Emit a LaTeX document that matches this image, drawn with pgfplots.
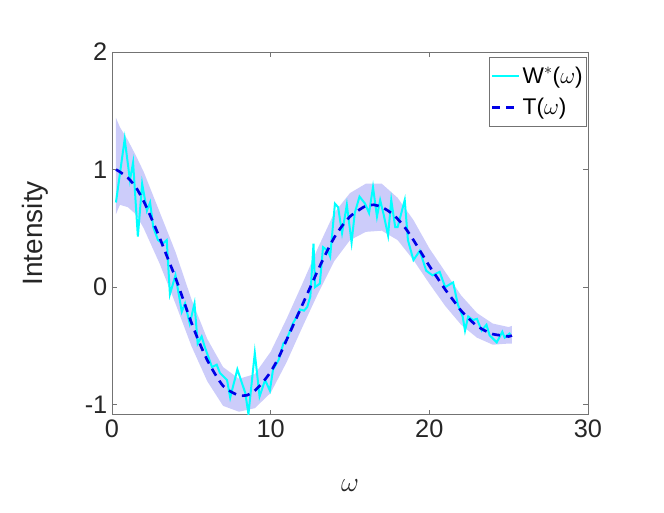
\documentclass[border=0pt]{standalone}
\usepackage{fontspec}
\setmainfont{Liberation Sans}
\usepackage{pgfplots}
\pgfplotsset{compat=1.18}
\usepackage{pgfplotstable}
\usepgfplotslibrary{fillbetween}

\definecolor{axgray}{gray}{0.45}
\definecolor{txtgray}{gray}{0.15}
\definecolor{wcyan}{RGB}{0,255,255}
\definecolor{tblue}{RGB}{0,0,230}
\definecolor{bandfill}{RGB}{204,204,250}

% spread of the estimate
\pgfplotstableread{
x     lo     hi
0.25  0.62   1.44
0.5   0.70   1.36
1     0.68   1.25
1.5   0.62   1.12
2     0.50   0.98
3     0.20   0.64
4    -0.14   0.30
5    -0.50  -0.10
6    -0.80  -0.44
7    -1.01  -0.68
8    -1.06  -0.78
9    -1.03  -0.74
10   -0.90  -0.55
11   -0.64  -0.27
12   -0.34   0.03
13   -0.05   0.34
14    0.22   0.63
15    0.40   0.80
16    0.47   0.88
17    0.48   0.88
18    0.40   0.76
19    0.23   0.57
20    0.03   0.33
21   -0.16   0.13
22   -0.32  -0.07
23   -0.43  -0.22
24   -0.49  -0.31
25   -0.48  -0.34
25.2 -0.48  -0.33
}\band

% W*(omega), noisy
\pgfplotstableread{
x     y
0.25  0.72
0.8   1.26
1.13  0.91
1.33  1.06
1.63  0.43
1.9   0.88
2.2   0.65
2.4   0.72
2.6   0.51
2.9   0.40
3.2   0.37
3.45  0.40
3.65 -0.06
4.0   0.10
4.4  -0.21
4.6  -0.14
4.9  -0.31
5.2  -0.14
5.4  -0.48
5.65 -0.42
5.85 -0.51
6.3  -0.68
6.6  -0.66
6.8  -0.73
7.25 -0.79
7.45 -0.94
7.9  -0.70
8.2  -0.82
8.4  -0.90
8.6  -1.08
9.0  -0.56
9.3  -0.93
9.65 -0.79
9.95 -0.88
10.15 -0.70
10.5 -0.62
10.8 -0.48
11.0 -0.45
11.4 -0.31
11.6 -0.26
11.85 -0.19
12.1 -0.20
12.3 -0.17
12.5 -0.08
12.7  0.37
12.8  0.00
13.1  0.03
13.3  0.34
13.6  0.31
13.75 0.26
14.05 0.71
14.25 0.68
14.5  0.46
14.8  0.70
15.1  0.38
15.3  0.63
15.6  0.77
15.95 0.71
16.2  0.63
16.45 0.85
16.7  0.60
16.9  0.74
17.1  0.63
17.4  0.44
17.6  0.74
17.85 0.51
18.0  0.51
18.45 0.74
18.65 0.40
19.0  0.23
19.4  0.31
19.8  0.14
20.2  0.10
20.65 0.13
21.0  0.00
21.5  0.04
21.8 -0.15
22.1 -0.25
22.25 -0.37
22.45 -0.25
22.75 -0.28
23.0 -0.27
23.3 -0.37
23.6 -0.32
23.8 -0.41
24.25 -0.47
24.6 -0.38
24.75 -0.43
25.1 -0.39
}\wstar

% T(omega)
\pgfplotstableread{
x     y
0.25  1.00
0.5   0.98
1     0.93
1.5   0.85
2     0.73
2.5   0.58
3     0.42
3.5   0.25
4     0.08
4.5  -0.11
5    -0.30
5.5  -0.47
6    -0.62
6.5  -0.74
7    -0.84
7.5  -0.89
8    -0.92
8.5  -0.92
9    -0.88
9.5  -0.81
10   -0.72
10.5 -0.60
11   -0.45
11.5 -0.30
12   -0.15
12.5  0.00
13    0.15
13.5  0.29
14    0.42
14.5  0.52
15    0.60
15.5  0.65
16    0.69
16.5  0.70
17    0.68
17.5  0.64
18    0.58
18.5  0.50
19    0.40
19.5  0.29
20    0.18
20.5  0.08
21   -0.02
21.5 -0.11
22   -0.20
22.5 -0.27
23   -0.33
23.5 -0.37
24   -0.40
24.5 -0.41
25   -0.42
25.2 -0.41
}\tcurve

\begin{document}
\begin{tikzpicture}
\begin{axis}[
    scale only axis,
    width=357pt, height=272pt,
    xmin=0, xmax=30,
    ymin=-1.085, ymax=2,
    xtick={0,10,20,30},
    ytick={-1,0,1,2},
    axis line style={axgray, line width=0.5pt},
    tick style={axgray, line width=0.5pt},
    major tick length=3.6pt,
    tick align=inside,
    /pgf/number format/assume math mode=true,
    ticklabel style={font=\fontsize{19}{22}\selectfont, text=txtgray},
    xlabel={$\omega$},
    ylabel={Intensity},
    label style={font=\fontsize{21}{25}\selectfont, text=txtgray},
    xlabel style={at={(axis description cs:0.5,-0.196)}, anchor=center},
    ylabel style={at={(axis description cs:-0.162,0.5)}, anchor=center},
    legend style={
        at={(rel axis cs:0.998,0.986)}, anchor=north east,
        draw=axgray, line width=0.5pt,
        font=\fontsize{17}{20}\selectfont, text=black,
        inner xsep=1pt, inner ysep=5pt, row sep=6pt,
        cells={anchor=west}},
    legend image code/.code={\draw[#1] (0pt,0pt) -- (20pt,0pt);},
]
\coordinate (sw) at (rel axis cs:0,0);
\coordinate (ne) at (rel axis cs:1,1);

\addplot[name path=lo, draw=none, forget plot] table[x=x, y=lo]{\band};
\addplot[name path=hi, draw=none, forget plot] table[x=x, y=hi]{\band};
\addplot[fill=bandfill, draw=none, forget plot] fill between[of=hi and lo];

\addplot[wcyan, line width=1.5pt] table[x=x, y=y]{\wstar};
\addlegendentry{W$^{*}$($\omega$)}

\addplot[tblue, line width=2pt, dash pattern=on 6pt off 4.5pt, smooth] table[x=x, y=y]{\tcurve};
\addlegendentry{T($\omega$)}
\end{axis}
\pgfresetboundingbox
\path ([shift={(-84pt,-73.5pt)}]sw) rectangle ([shift={(57pt,39pt)}]ne);
\end{tikzpicture}
\end{document}
